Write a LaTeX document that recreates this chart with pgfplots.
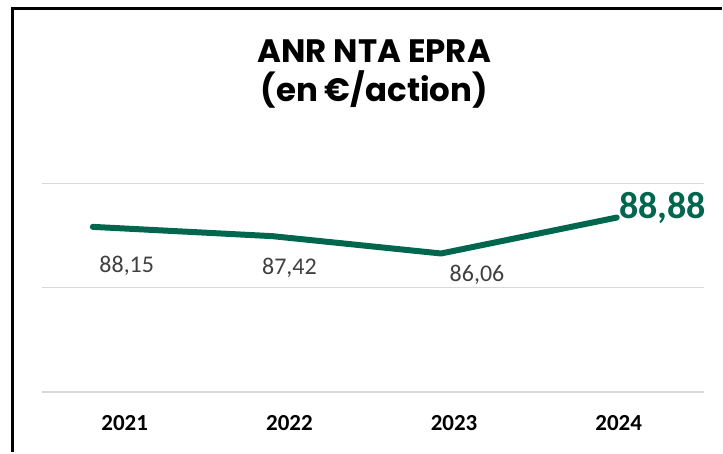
\documentclass[border=0pt]{standalone}
\usepackage{pgfplots}
\pgfplotsset{compat=1.18}
\usepackage{fontspec}
\setmainfont{Carlito}
\newfontfamily\poppins{Poppins}
\definecolor{anrgreen}{HTML}{00664D}
\definecolor{gridgray}{HTML}{D9D9D9}
\definecolor{lblgray}{HTML}{404040}

\begin{document}
\begin{tikzpicture}
\begin{axis}[
    scale only axis,
    width=331.5pt, height=104.5pt,
    xmin=42, xmax=705,
    ymin=75.172, ymax=91.543,
    axis line style={draw=none},
    clip=false,
    ytick={75.172,83.397,91.543},
    xtick={125,290,455,620},
    xticklabels={2021,2022,2023,2024},
    ymajorgrids,
    grid style={gridgray, line width=0.75pt},
    major tick length=0pt,
    yticklabels={},
    xticklabel style={font=\fontsize{11.5}{13}\selectfont\bfseries, anchor=center, yshift=-15.5pt},
]
% bounding box of the whole image, in px across and value units up
\path (axis cs:0,105.957) rectangle (axis cs:723,70.472);
% frame
\draw[black, line width=1.5pt] (axis cs:13,70.472) -- (axis cs:13,105.252) -- (axis cs:723,105.252);

\addplot[anrgreen, line width=3pt, line cap=round, line join=round, mark=none]
    coordinates {(93,88.15) (273,87.42) (442,86.06) (618,88.88)};

% data labels
\node[lblgray, font=\fontsize{12}{14}\selectfont] at (axis cs:127,85.12) {88,15};
\node[lblgray, font=\fontsize{12}{14}\selectfont] at (axis cs:290,84.963) {87,42};
\node[lblgray, font=\fontsize{12}{14}\selectfont] at (axis cs:478,84.415) {86,06};
\node[anrgreen, font=\fontsize{19}{21}\selectfont\bfseries] at (axis cs:664,89.6) {88,88};

% title
\node[anchor=base, font=\poppins\bfseries\fontsize{16.25}{18}\selectfont] at (axis cs:375,101.022) {ANR NTA EPRA};
\node[anchor=base, font=\poppins\bfseries\fontsize{16.25}{18}\selectfont] at (axis cs:375,97.967) {(en €/action)};
\end{axis}
\end{tikzpicture}
\end{document}
